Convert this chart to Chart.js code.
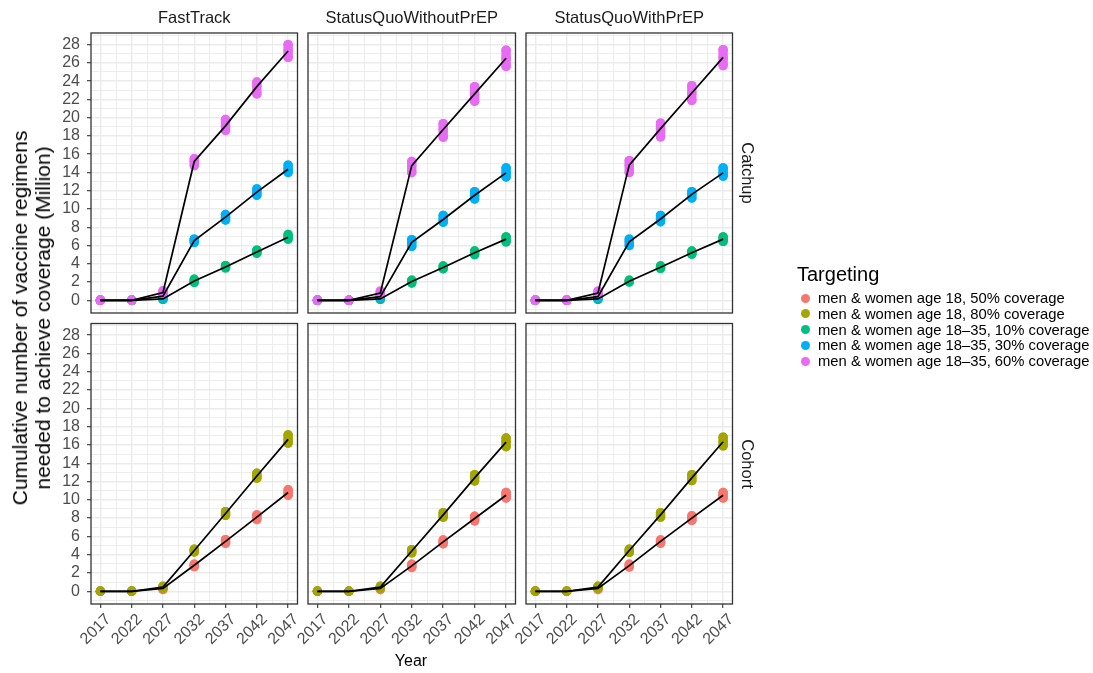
<!DOCTYPE html>
<html>
<head>
<meta charset="utf-8">
<script src="https://cdn.jsdelivr.net/npm/chart.js@4/dist/chart.umd.min.js"></script>
<style>
  html, body { margin: 0; padding: 0; background: #fff; }
  #wrap { position: relative; width: 1093px; height: 673px; overflow: hidden;
          font-family: "Liberation Sans", Arial, Helvetica, sans-serif; }
  #wrap canvas { position: absolute; left: 0; top: 0; }
  .txt { position: absolute; white-space: nowrap; line-height: 1; }
  .dot { position: absolute; width: 9px; height: 9px; border-radius: 50%; }
</style>
</head>
<body>
<div id="wrap"></div>
<script>
// ---- categories & labels ----
const years = [2017, 2022, 2027, 2032, 2037, 2042, 2047];
const scenarios = ['FastTrack', 'StatusQuoWithoutPrEP', 'StatusQuoWithPrEP'];
const strategies = ['Catchup', 'Cohort'];
const targetLabels = [
  'men & women age 18, 50% coverage',
  'men & women age 18, 80% coverage',
  'men & women age 18\u201335, 10% coverage',
  'men & women age 18\u201335, 30% coverage',
  'men & women age 18\u201335, 60% coverage'
];
const targetColors = ['#F8766D', '#A3A500', '#00BF7D', '#00B0F6', '#E76BF3'];
const yTickValues = [-1, 0, 1, 2, 3, 4, 5, 6, 7, 8, 9, 10, 11, 12, 13, 14, 15, 16, 17, 18, 19, 20, 21, 22, 23, 24, 25, 26, 27, 28, 29];
const xTickValues = [2017, 2019.5, 2022, 2024.5, 2027, 2029.5, 2032, 2034.5, 2037, 2039.5, 2042, 2044.5, 2047];

// ---- values per year: [lowest run, mean, highest run], million regimens ----
// FastTrack, Catchup
const ftCatchup10 = [[0,0,0],[0,0,0],[0.1,0.15,0.2],[1.97,2.12,2.3],[3.55,3.65,3.8],[5.15,5.3,5.5],[6.7,6.9,7.2]];
const ftCatchup30 = [[0,0,0],[0,0,0],[0.3,0.45,0.6],[6.35,6.55,6.7],[8.8,9.1,9.4],[11.5,11.85,12.2],[14.0,14.35,14.8]];
const ftCatchup60 = [[0,0,0],[0,0,0],[0.7,0.85,1.05],[14.75,15.2,15.5],[18.6,19.1,19.8],[22.6,23.4,23.9],[26.6,27.3,28.0]];
// StatusQuoWithoutPrEP, Catchup
const sqnCatchup10 = [[0,0,0],[0,0,0],[0.1,0.15,0.2],[1.9,2.05,2.2],[3.45,3.6,3.75],[5.0,5.2,5.4],[6.4,6.7,6.95]];
const sqnCatchup30 = [[0,0,0],[0,0,0],[0.3,0.4,0.55],[5.9,6.35,6.65],[8.55,8.85,9.3],[11.1,11.5,11.9],[13.5,13.95,14.5]];
const sqnCatchup60 = [[0,0,0],[0,0,0],[0.6,0.8,1.0],[14.0,14.75,15.2],[17.85,18.7,19.35],[21.8,22.6,23.4],[25.6,26.5,27.4]];
// StatusQuoWithPrEP, Catchup
const sqpCatchup10 = [[0,0,0],[0,0,0],[0.1,0.15,0.2],[2.0,2.08,2.2],[3.5,3.62,3.75],[5.05,5.2,5.4],[6.45,6.7,6.95]];
const sqpCatchup30 = [[0,0,0],[0,0,0],[0.3,0.4,0.55],[6.0,6.4,6.7],[8.6,8.9,9.3],[11.2,11.6,11.9],[13.6,13.95,14.5]];
const sqpCatchup60 = [[0,0,0],[0,0,0],[0.6,0.8,1.0],[14.0,14.8,15.3],[17.9,18.8,19.4],[21.9,22.7,23.5],[25.7,26.6,27.45]];
// FastTrack, Cohort
const ftCohort50 = [[0,0,0],[0,0,0],[0.2,0.3,0.4],[2.7,2.85,2.95],[5.25,5.45,5.65],[7.85,8.1,8.35],[10.5,10.8,11.1]];
const ftCohort80 = [[0,0,0],[0,0,0],[0.35,0.45,0.55],[4.3,4.45,4.6],[8.3,8.5,8.7],[12.35,12.6,12.9],[16.2,16.6,17.1]];
// StatusQuoWithoutPrEP, Cohort
const sqnCohort50 = [[0,0,0],[0,0,0],[0.2,0.3,0.4],[2.6,2.78,2.95],[5.2,5.4,5.6],[7.7,7.95,8.2],[10.2,10.5,10.8]];
const sqnCohort80 = [[0,0,0],[0,0,0],[0.35,0.45,0.55],[4.2,4.4,4.55],[8.1,8.35,8.6],[12.05,12.4,12.75],[15.8,16.3,16.75]];
// StatusQuoWithPrEP, Cohort
const sqpCohort50 = [[0,0,0],[0,0,0],[0.2,0.3,0.4],[2.65,2.8,2.95],[5.25,5.45,5.6],[7.75,8.0,8.25],[10.2,10.5,10.8]];
const sqpCohort80 = [[0,0,0],[0,0,0],[0.35,0.45,0.55],[4.25,4.45,4.6],[8.1,8.35,8.6],[12.1,12.4,12.75],[15.9,16.35,16.85]];

// ---- page geometry ----
const W = 1093, H = 673;
const colLeft = [91, 308, 526];
const colRight = [297.5, 515.5, 732.5];
const rowTop = [33, 323.5];
const rowBottom = [313, 604];
const Y_AXIS_W = 60, X_AXIS_H = 55;
const DOT_R = 4.7;
const FONT = '"Liberation Sans", Arial, Helvetica, sans-serif';

// panels: [column, row, [series, targetIndex]...]
const panels = [
  [0, 0, [[ftCatchup10, 2], [ftCatchup30, 3], [ftCatchup60, 4]]],
  [1, 0, [[sqnCatchup10, 2], [sqnCatchup30, 3], [sqnCatchup60, 4]]],
  [2, 0, [[sqpCatchup10, 2], [sqpCatchup30, 3], [sqpCatchup60, 4]]],
  [0, 1, [[ftCohort50, 0], [ftCohort80, 1]]],
  [1, 1, [[sqnCohort50, 0], [sqnCohort80, 1]]],
  [2, 1, [[sqpCohort50, 0], [sqpCohort80, 1]]]
];

const panelBorder = {
  id: 'panelBorder',
  afterDraw(chart) {
    const a = chart.chartArea, c = chart.ctx;
    c.save();
    c.strokeStyle = '#333333';
    c.lineWidth = 1.3;
    c.strokeRect(a.left, a.top, a.right - a.left, a.bottom - a.top);
    c.restore();
  }
};

const wrap = document.getElementById('wrap');

function buildPanel(col, row, seriesList) {
  const canvas = document.createElement('canvas');
  canvas.width = W; canvas.height = H;
  wrap.appendChild(canvas);
  const showY = col === 0, showX = row === 1;
  const yW = showY ? Y_AXIS_W : 0;
  const xH = showX ? X_AXIS_H : 0;

  const datasets = [];
  // mean lines on top
  seriesList.forEach(([s]) => {
    datasets.push({
      data: years.map((yr, i) => ({ x: yr, y: s[i][1] })),
      showLine: true, borderColor: '#000000', borderWidth: 1.7,
      pointRadius: 0, order: 0
    });
  });
  // spread of runs at each year: a round-capped stroke from lowest to highest run,
  // plus dots at lowest, mean and highest; later targets drawn above earlier ones
  seriesList.forEach(([s, t], k) => {
    const ord = 1 + 2 * (seriesList.length - k);
    datasets.push({
      data: years.flatMap((yr, i) => [{ x: yr, y: s[i][0] }, { x: yr, y: s[i][2] }, { x: yr, y: null }]),
      showLine: true, spanGaps: false, borderColor: targetColors[t],
      borderWidth: DOT_R * 2, borderCapStyle: 'round', pointRadius: 0, order: ord
    });
    datasets.push({
      data: years.flatMap((yr, i) => s[i].map(v => ({ x: yr, y: v }))),
      backgroundColor: targetColors[t], borderWidth: 0,
      pointRadius: DOT_R, pointHoverRadius: DOT_R, order: ord - 1
    });
  });

  const isMajorX = v => Number.isInteger(v) && (v - 2017) % 5 === 0;
  const isMajorY = v => v >= 0 && v % 2 === 0;

  new Chart(canvas, {
    type: 'scatter',
    data: { datasets },
    options: {
      responsive: false, animation: false, devicePixelRatio: 1,
      layout: {
        autoPadding: false,
        padding: {
          left: colLeft[col] - yW, right: W - colRight[col],
          top: rowTop[row], bottom: H - rowBottom[row] - xH
        }
      },
      plugins: { legend: { display: false }, tooltip: { enabled: false } },
      scales: {
        x: {
          type: 'linear', min: 2015.5, max: 2048.5,
          afterBuildTicks: sc => { sc.ticks = xTickValues.map(v => ({ value: v })); },
          afterFit: sc => { sc.height = xH; },
          border: { display: false },
          grid: {
            color: '#ebebeb',
            lineWidth: ctx => isMajorX(ctx.tick.value) ? 1.4 : 0.9,
            drawTicks: showX, tickLength: 4, tickWidth: 1.1,
            tickColor: ctx => isMajorX(ctx.tick.value) ? '#333333' : 'rgba(0,0,0,0)'
          },
          ticks: {
            display: showX, autoSkip: false, minRotation: 45, maxRotation: 45,
            padding: 2, labelOffset: 8,
            color: '#4d4d4d', font: { family: FONT, size: 16 },
            callback: v => isMajorX(v) ? String(v) : ''
          }
        },
        y: {
          type: 'linear', min: -1.39, max: 29.27,
          afterBuildTicks: sc => { sc.ticks = yTickValues.map(v => ({ value: v })); },
          afterFit: sc => { sc.width = yW; },
          border: { display: false },
          grid: {
            color: '#ebebeb',
            lineWidth: ctx => isMajorY(ctx.tick.value) ? 1.4 : 0.9,
            drawTicks: showY, tickLength: 4, tickWidth: 1.1,
            tickColor: ctx => isMajorY(ctx.tick.value) ? '#333333' : 'rgba(0,0,0,0)'
          },
          ticks: {
            display: showY, autoSkip: false, padding: 7,
            color: '#4d4d4d', font: { family: FONT, size: 16 },
            callback: v => isMajorY(v) ? String(v) : ''
          }
        }
      }
    },
    plugins: [panelBorder]
  });
}

panels.forEach(([c, r, s]) => buildPanel(c, r, s));

// ---- text: facet strips, axis titles, legend ----
function addText(str, x, y, opts) {
  const d = document.createElement('div');
  d.className = 'txt';
  d.textContent = str;
  d.style.left = x + 'px';
  d.style.top = y + 'px';
  d.style.fontSize = (opts.size || 16) + 'px';
  d.style.color = opts.color || '#000';
  d.style.transform = opts.transform || 'translate(-50%, -50%)';
  if (opts.lineHeight) d.style.lineHeight = opts.lineHeight;
  if (opts.align) d.style.textAlign = opts.align;
  if (opts.pre) d.style.whiteSpace = 'pre';
  wrap.appendChild(d);
  return d;
}

scenarios.forEach((s, i) => {
  addText(s, (colLeft[i] + colRight[i]) / 2, 17, { size: 16.5, color: '#1a1a1a' });
});
strategies.forEach((s, i) => {
  addText(s, 748, (rowTop[i] + rowBottom[i]) / 2, { size: 16.5, color: '#1a1a1a', transform: 'translate(-50%, -50%) rotate(90deg)' });
});
addText('Cumulative number of vaccine regimens\nneeded to achieve coverage (Million)', 31, 318,
  { size: 21, pre: true, align: 'center', lineHeight: '23px', transform: 'translate(-50%, -50%) rotate(-90deg)' });
addText('Year', 411, 661, { size: 16 });

addText('Targeting', 797, 274, { size: 20, transform: 'translate(0, -50%)' });
targetLabels.forEach((lab, i) => {
  const cy = 298 + i * 15.75;
  const dot = document.createElement('div');
  dot.className = 'dot';
  dot.style.left = (805 - 4.5) + 'px';
  dot.style.top = (cy - 4.5) + 'px';
  dot.style.background = targetColors[i];
  wrap.appendChild(dot);
  addText(lab, 818, cy, { size: 14.8, transform: 'translate(0, -50%)' });
});
</script>
</body>
</html>
